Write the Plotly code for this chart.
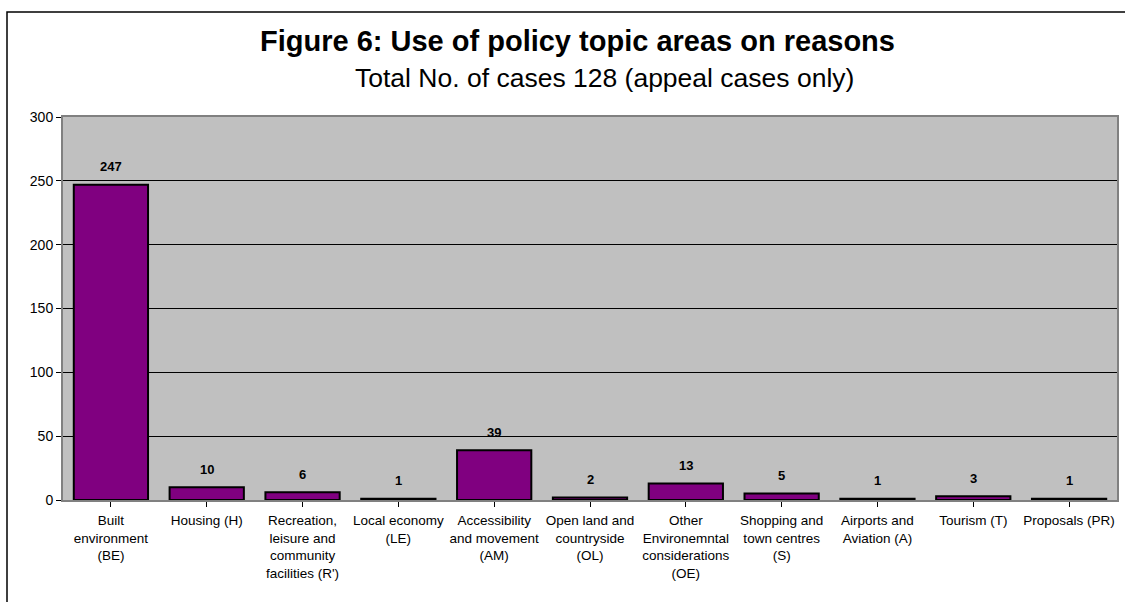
import plotly.graph_objects as go

categories = [
    "Built<br>environment<br>(BE)",
    "Housing (H)",
    "Recreation,<br>leisure and<br>community<br>facilities (R')",
    "Local economy<br>(LE)",
    "Accessibility<br>and movement<br>(AM)",
    "Open land and<br>countryside<br>(OL)",
    "Other<br>Environemntal<br>considerations<br>(OE)",
    "Shopping and<br>town centres<br>(S)",
    "Airports and<br>Aviation (A)",
    "Tourism (T)",
    "Proposals (PR)",
]
values = [247, 10, 6, 1, 39, 2, 13, 5, 1, 3, 1]
y_ticks = [0, 50, 100, 150, 200, 250, 300]

W, H = 1125, 602
L, R, T, B = 63, 1117, 117, 500


def px_x(x):
    return (x - L) / (R - L)


def px_y(y):
    return (B - y) / (B - T)


FONT = "Arial, Liberation Sans, sans-serif"
idx = list(range(len(categories)))

fig = go.Figure()
fig.add_trace(go.Bar(
    x=idx, y=values,
    marker=dict(color="#800080", line=dict(color="#000000", width=2)),
    hoverinfo="skip",
))

annotations = []
for i, v in zip(idx, values):
    annotations.append(dict(
        x=i, y=v, xref="x", yref="y", text=f"<b>{v}</b>", showarrow=False,
        yshift=18, yanchor="middle", font=dict(family=FONT, size=13, color="#000"),
    ))
annotations.append(dict(
    x=px_x(577.5), y=px_y(41), xref="paper", yref="paper",
    text="<b>Figure 6: Use of policy topic areas on reasons</b>", showarrow=False,
    xanchor="center", yanchor="middle", font=dict(family=FONT, size=29, color="#000"),
))
annotations.append(dict(
    x=px_x(604), y=px_y(78), xref="paper", yref="paper",
    text="Total No. of cases 128 (appeal cases only)", showarrow=False,
    xanchor="center", yanchor="middle", font=dict(family=FONT, size=26.5, color="#000"),
))

fig.update_layout(
    width=W, height=H,
    margin=dict(l=L, r=W - R, t=T, b=H - B, autoexpand=False),
    paper_bgcolor="#ffffff",
    plot_bgcolor="#c0c0c0",
    bargap=0.225,
    showlegend=False,
    annotations=annotations,
    shapes=[dict(
        type="rect", xref="paper", yref="paper",
        x0=px_x(7), y0=px_y(620), x1=px_x(1140), y1=px_y(12),
        line=dict(color="#000000", width=1.5), fillcolor="rgba(0,0,0,0)", layer="below",
    )],
    font=dict(family=FONT, color="#000"),
)
fig.update_xaxes(
    range=[-0.5, len(categories) - 0.5],
    tickmode="array", tickvals=idx, ticktext=categories,
    tickson="boundaries", ticks="outside", ticklen=5, tickcolor="#000", tickwidth=1,
    ticklabelstandoff=2,
    showline=True, linecolor="#808080", linewidth=2, mirror=True,
    showgrid=False, zeroline=False,
    tickfont=dict(family=FONT, size=13.5, color="#000"),
)
fig.update_yaxes(
    range=[0, 300],
    tickmode="array", tickvals=y_ticks,
    ticks="outside", ticklen=5, tickcolor="#000", tickwidth=1,
    showline=True, linecolor="#808080", linewidth=2, mirror=True,
    showgrid=True, gridcolor="#000000", gridwidth=1, zeroline=False,
    tickfont=dict(family=FONT, size=14, color="#000"),
)

fig.write_html("out.html")
